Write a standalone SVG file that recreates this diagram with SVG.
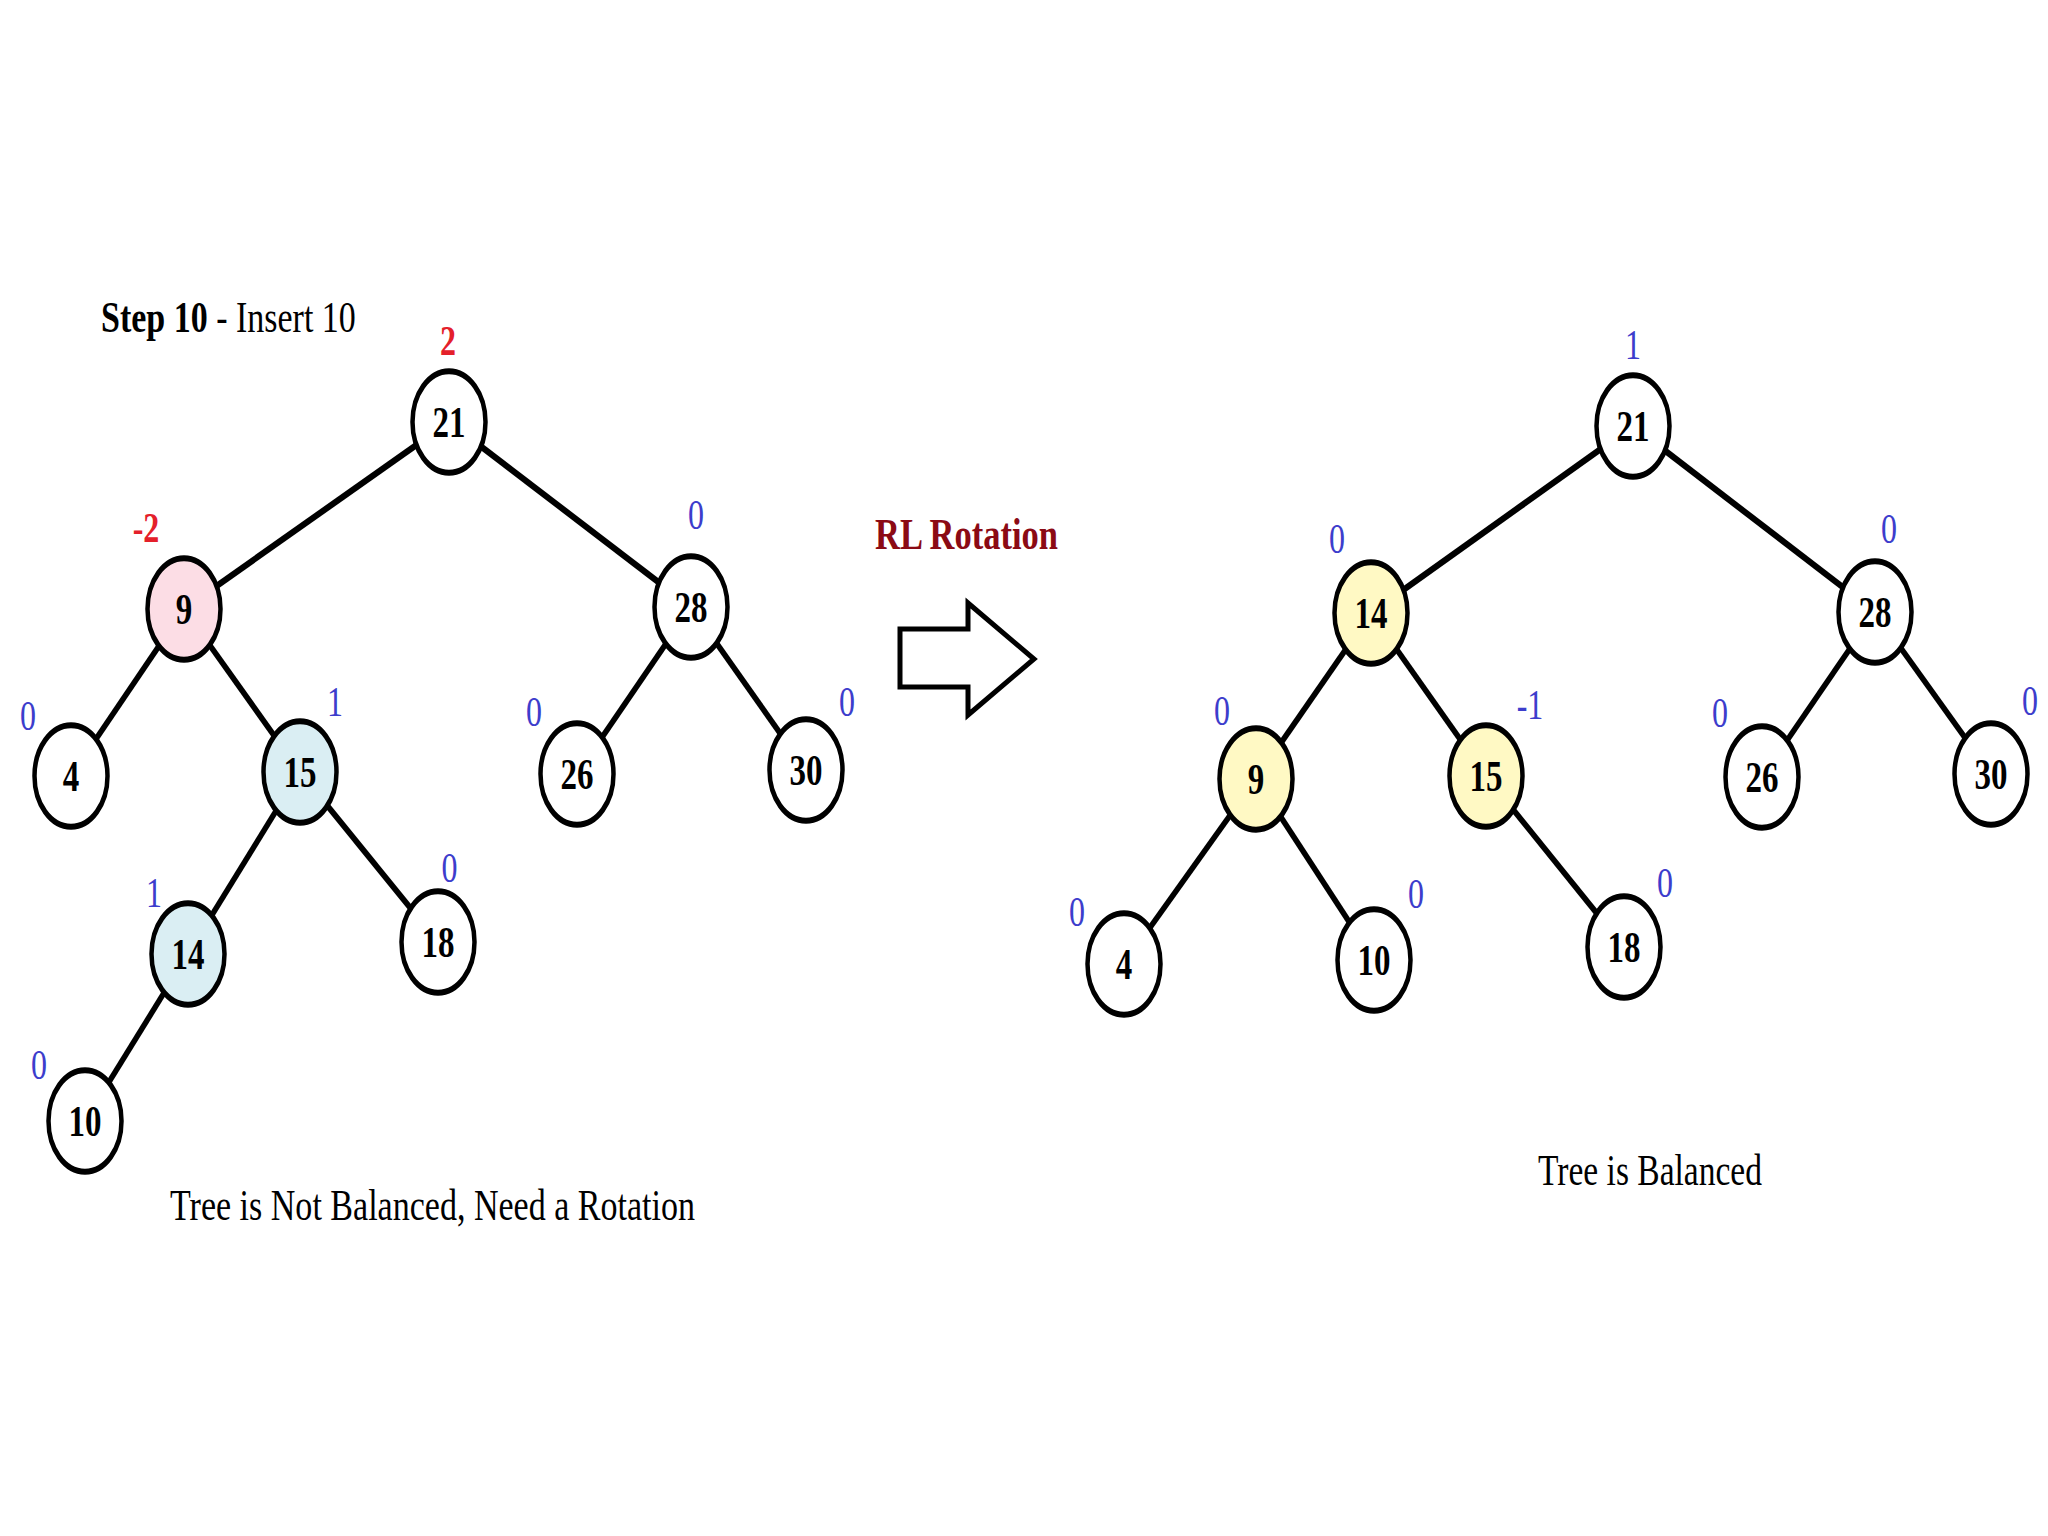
<svg xmlns="http://www.w3.org/2000/svg" width="2048" height="1536" viewBox="0 0 2048 1536">
<style>
.edge{stroke:#000;stroke-width:5;fill:none}
.nd ellipse{stroke:#000;stroke-width:4.5;fill:#fff}
.nd text{font-family:"Liberation Serif","Times New Roman",serif;font-weight:bold;font-size:33px;text-anchor:middle;fill:#000}
.pink ellipse{fill:#fcdde5}
.blue ellipse{fill:#daeef3}
.yel ellipse{fill:#fff9c4}
.bf{font-family:"Liberation Serif","Times New Roman",serif;font-size:32px;fill:#3d3dcc;text-anchor:middle}
.bfr{font-family:"Liberation Serif","Times New Roman",serif;font-size:32px;font-weight:bold;fill:#e4202a;text-anchor:middle}
.cap{font-family:"Liberation Serif","Times New Roman",serif;font-size:34px;fill:#000}
.rl{font-family:"Liberation Serif","Times New Roman",serif;font-size:34px;font-weight:bold;fill:#8b0a14}
</style>
<rect width="2048" height="1536" fill="#fff"/>
<g transform="scale(1,1.3333)">
<g id="connectors">
<line class="edge" x1="449" y1="316.5" x2="184" y2="456.75"/>
<line class="edge" x1="449" y1="316.5" x2="691" y2="455.25"/>
<line class="edge" x1="184" y1="456.75" x2="71" y2="582"/>
<line class="edge" x1="184" y1="456.75" x2="300" y2="579"/>
<line class="edge" x1="691" y1="455.25" x2="577" y2="580.5"/>
<line class="edge" x1="691" y1="455.25" x2="806" y2="577.5"/>
<line class="edge" x1="300" y1="579" x2="188" y2="715.5"/>
<line class="edge" x1="300" y1="579" x2="438" y2="706.5"/>
<line class="edge" x1="188" y1="715.5" x2="85" y2="840.75"/>
<line class="edge" x1="1633" y1="319.5" x2="1371" y2="459.75"/>
<line class="edge" x1="1633" y1="319.5" x2="1875" y2="459"/>
<line class="edge" x1="1371" y1="459.75" x2="1256" y2="584.25"/>
<line class="edge" x1="1371" y1="459.75" x2="1486" y2="582"/>
<line class="edge" x1="1875" y1="459" x2="1762" y2="582.75"/>
<line class="edge" x1="1875" y1="459" x2="1991" y2="580.5"/>
<line class="edge" x1="1256" y1="584.25" x2="1124" y2="723"/>
<line class="edge" x1="1256" y1="584.25" x2="1374" y2="720"/>
<line class="edge" x1="1486" y1="582" x2="1624" y2="710.25"/>
</g>
<g id="L21" class="nd"><ellipse cx="449" cy="316.5" rx="36.5" ry="38"/><text x="449" y="327.5">21</text></g>
<g id="L9" class="nd pink"><ellipse cx="184" cy="456.75" rx="36.5" ry="38"/><text x="184" y="467.75">9</text></g>
<g id="L28" class="nd"><ellipse cx="691" cy="455.25" rx="36.5" ry="38"/><text x="691" y="466.25">28</text></g>
<g id="L4" class="nd"><ellipse cx="71" cy="582" rx="36.5" ry="38"/><text x="71" y="593">4</text></g>
<g id="L15" class="nd blue"><ellipse cx="300" cy="579" rx="36.5" ry="38"/><text x="300" y="590">15</text></g>
<g id="L26" class="nd"><ellipse cx="577" cy="580.5" rx="36.5" ry="38"/><text x="577" y="591.5">26</text></g>
<g id="L30" class="nd"><ellipse cx="806" cy="577.5" rx="36.5" ry="38"/><text x="806" y="588.5">30</text></g>
<g id="L14" class="nd blue"><ellipse cx="188" cy="715.5" rx="36.5" ry="38"/><text x="188" y="726.5">14</text></g>
<g id="L18" class="nd"><ellipse cx="438" cy="706.5" rx="36.5" ry="38"/><text x="438" y="717.5">18</text></g>
<g id="L10" class="nd"><ellipse cx="85" cy="840.75" rx="36.5" ry="38"/><text x="85" y="851.75">10</text></g>
<g id="R21" class="nd"><ellipse cx="1633" cy="319.5" rx="36.5" ry="38"/><text x="1633" y="330.5">21</text></g>
<g id="R14" class="nd yel"><ellipse cx="1371" cy="459.75" rx="36.5" ry="38"/><text x="1371" y="470.75">14</text></g>
<g id="R28" class="nd"><ellipse cx="1875" cy="459" rx="36.5" ry="38"/><text x="1875" y="470">28</text></g>
<g id="R9" class="nd yel"><ellipse cx="1256" cy="584.25" rx="36.5" ry="38"/><text x="1256" y="595.25">9</text></g>
<g id="R15" class="nd yel"><ellipse cx="1486" cy="582" rx="36.5" ry="38"/><text x="1486" y="593">15</text></g>
<g id="R26" class="nd"><ellipse cx="1762" cy="582.75" rx="36.5" ry="38"/><text x="1762" y="593.75">26</text></g>
<g id="R30" class="nd"><ellipse cx="1991" cy="580.5" rx="36.5" ry="38"/><text x="1991" y="591.5">30</text></g>
<g id="R4" class="nd"><ellipse cx="1124" cy="723" rx="36.5" ry="38"/><text x="1124" y="734">4</text></g>
<g id="R10" class="nd"><ellipse cx="1374" cy="720" rx="36.5" ry="38"/><text x="1374" y="731">10</text></g>
<g id="R18" class="nd"><ellipse cx="1624" cy="710.25" rx="36.5" ry="38"/><text x="1624" y="721.25">18</text></g>
<g id="balance">
<text class="bfr" x="448" y="266">2</text>
<text class="bfr" x="146" y="406.5">-2</text>
<text class="bf" x="696" y="396.75">0</text>
<text class="bf" x="28" y="547.5">0</text>
<text class="bf" x="335" y="537">1</text>
<text class="bf" x="534" y="544.5">0</text>
<text class="bf" x="847" y="537">0</text>
<text class="bf" x="449.5" y="661.5">0</text>
<text class="bf" x="154" y="680.25">1</text>
<text class="bf" x="39" y="809.25">0</text>
<text class="bf" x="1633" y="269.25">1</text>
<text class="bf" x="1337" y="414.75">0</text>
<text class="bf" x="1889" y="407.25">0</text>
<text class="bf" x="1222" y="543.75">0</text>
<text class="bf" x="1530" y="539.25">-1</text>
<text class="bf" x="1720" y="545.25">0</text>
<text class="bf" x="2030" y="536.25">0</text>
<text class="bf" x="1077" y="694.5">0</text>
<text class="bf" x="1416" y="681">0</text>
<text class="bf" x="1665" y="672.75">0</text>
</g>
<text class="cap" x="101" y="249"><tspan font-weight="bold">Step 10</tspan> - Insert 10</text>
<text class="cap" x="170" y="915" textLength="525" lengthAdjust="spacingAndGlyphs">Tree is Not Balanced, Need a Rotation</text>
<text class="cap" x="1538" y="888.75" textLength="224" lengthAdjust="spacingAndGlyphs">Tree is Balanced</text>
<text class="rl" x="875" y="411.75" textLength="183" lengthAdjust="spacingAndGlyphs">RL Rotation</text>
</g>
<polygon id="arrow" points="900,629 968,629 968,603 1034,659 968,715 968,687 900,687" fill="#fff" stroke="#000" stroke-width="5" stroke-linejoin="miter"/>
</svg>
